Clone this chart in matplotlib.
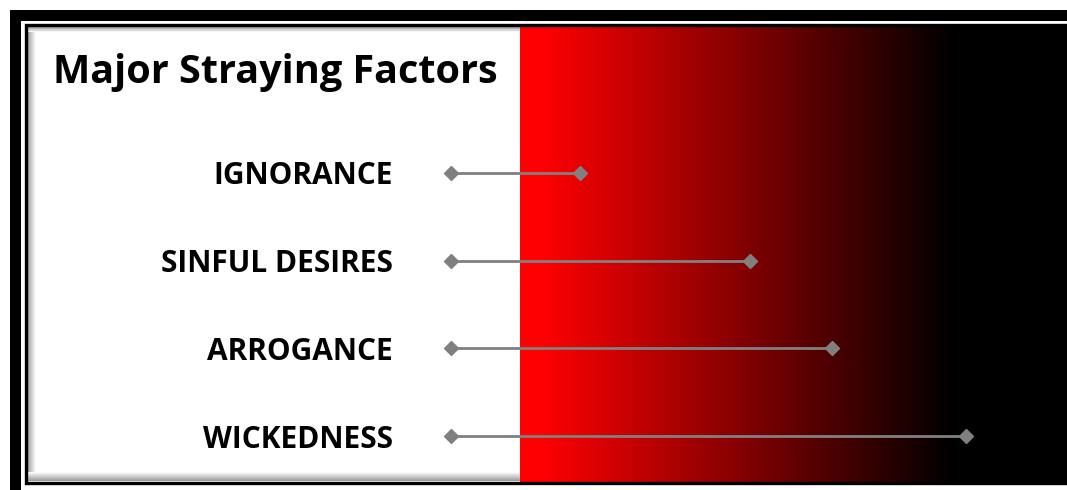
import numpy as np
import matplotlib
matplotlib.use("Agg")
import matplotlib.pyplot as plt
from matplotlib.patches import Rectangle

# ---- data ----
title = "Major Straying Factors"
categories = ["IGNORANCE", "SINFUL DESIRES", "ARROGANCE", "WICKEDNESS"]
start_values = [0, 0, 0, 0]
end_values = [2.5, 5.8, 7.4, 10.0]

W, H = 1067, 490
fig = plt.figure(figsize=(W / 100, H / 100), dpi=100)
fig.patch.set_facecolor("white")

# background / frame axes in pixel coordinates
bg = fig.add_axes([0, 0, 1, 1])
bg.set_xlim(0, W)
bg.set_ylim(H, 0)
bg.axis("off")

# outer thick frame (top and left band)
bg.add_patch(Rectangle((10, 10), W - 10, 11, color="black", lw=0))
bg.add_patch(Rectangle((10, 10), 11, H - 10, color="black", lw=0))

# inner panel shadow
shadow_w = 9
g = np.linspace(0.6, 1.0, 32)
bg.imshow(np.tile(g, (2, 1)), cmap="gray", vmin=0, vmax=1, extent=[27, 27 + shadow_w, 481, 27],
          aspect="auto", interpolation="bilinear", zorder=1)
bg.imshow(np.tile(g[::-1], (2, 1)).T, cmap="gray", vmin=0, vmax=1, extent=[27, 520, 481, 481 - shadow_w],
          aspect="auto", interpolation="bilinear", zorder=1)
bg.imshow(np.tile(g, (2, 1)).T, cmap="gray", vmin=0, vmax=1, extent=[27, 520, 27 + 5, 27],
          aspect="auto", interpolation="bilinear", zorder=1)

# red to black gradient
xs = np.linspace(520, 1064, 600)
r = np.clip((955 - xs) / (955 - 540), 0, 1)
grad = np.zeros((2, len(xs), 3))
grad[:, :, 0] = r[None, :]
bg.imshow(grad, extent=[520, 1064, 482, 27], aspect="auto", interpolation="bilinear", zorder=2)

# inner thin frame
bg.add_patch(Rectangle((25.5, 25.5), 1039, 457, fill=False, ec="black", lw=2.4, zorder=3))

# title
bg.text(53, 72, title, fontsize=28.5, fontweight="bold", family="Open Sans", color="black",
        ha="left", va="center", zorder=4)

# ---- data axes ----
top_px, bot_px = 173, 436
left_px, right_px = 451, 966
ax = fig.add_axes([left_px / W, 1 - bot_px / H, (right_px - left_px) / W, (bot_px - top_px) / H])
ax.patch.set_alpha(0)
n = len(categories)
ypos = np.arange(n)[::-1]
for y, s, e in zip(ypos, start_values, end_values):
    ax.plot([s, e], [y, y], color="#808080", lw=2.0, marker="D", ms=7, mfc="#808080", mec="#808080",
            solid_capstyle="butt", clip_on=False, zorder=5)
ax.set_xlim(0, max(end_values))
ax.set_ylim(0, n - 1)
ax.set_yticks(ypos)
ax.set_yticklabels(categories, fontsize=21.5, fontweight="bold", family="Open Sans")
ax.tick_params(axis="y", length=0, pad=42)
ax.set_xticks([])
for sp in ax.spines.values():
    sp.set_visible(False)

fig.savefig("out.png", dpi=100)
